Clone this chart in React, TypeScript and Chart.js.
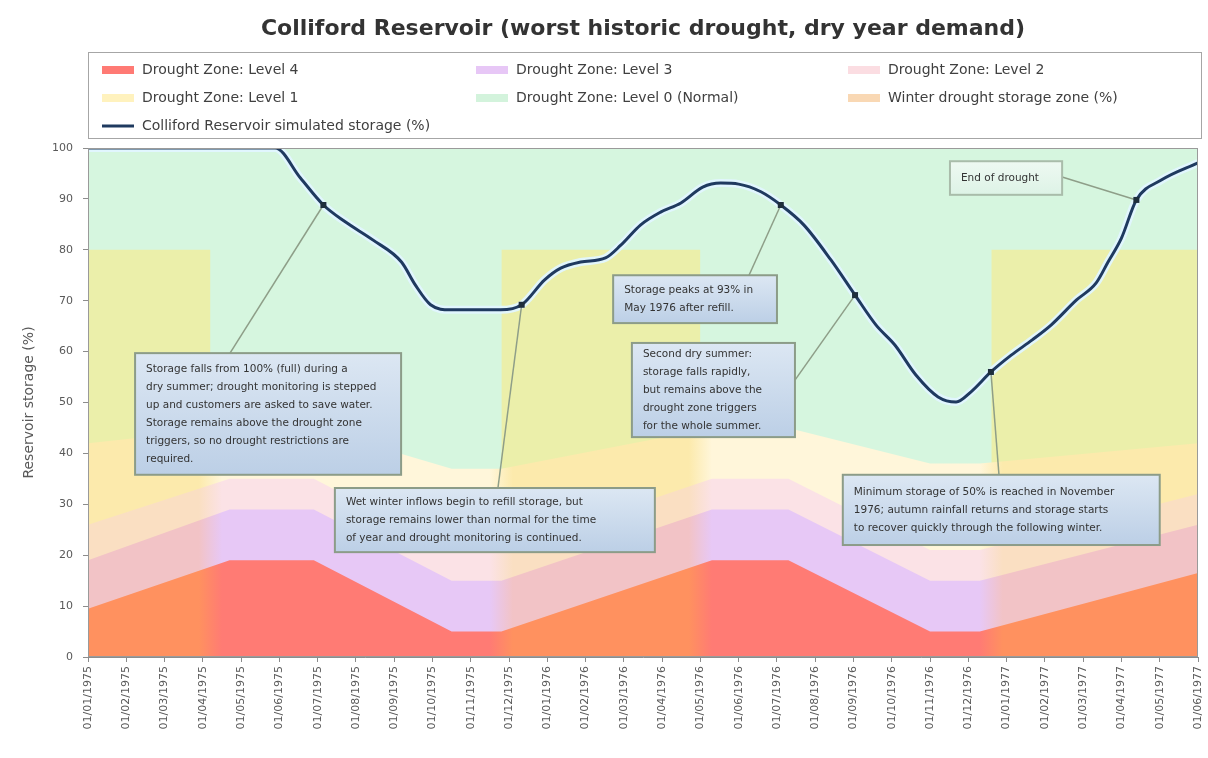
import React, { useEffect, useRef } from 'react';
import { Chart, registerables } from 'chart.js';

Chart.register(...registerables);

const W = 1208;
const H = 758;
const FONT = "'DejaVu Sans', Verdana, sans-serif";

const chartTitle = 'Colliford Reservoir (worst historic drought, dry year demand)';
const yAxisTitle = 'Reservoir storage (%)';

// Monthly category labels (x axis)
const dateLabels = [
  '01/01/1975', '01/02/1975', '01/03/1975', '01/04/1975', '01/05/1975', '01/06/1975',
  '01/07/1975', '01/08/1975', '01/09/1975', '01/10/1975', '01/11/1975', '01/12/1975',
  '01/01/1976', '01/02/1976', '01/03/1976', '01/04/1976', '01/05/1976', '01/06/1976',
  '01/07/1976', '01/08/1976', '01/09/1976', '01/10/1976', '01/11/1976', '01/12/1976',
  '01/01/1977', '01/02/1977', '01/03/1977', '01/04/1977', '01/05/1977', '01/06/1977',
];

const seriesNames = [
  'Drought Zone: Level 4',
  'Drought Zone: Level 3',
  'Drought Zone: Level 2',
  'Drought Zone: Level 1',
  'Drought Zone: Level 0 (Normal)',
  'Winter drought storage zone (%)',
  'Colliford Reservoir simulated storage (%)',
];

// Drought zone upper boundaries (% storage) at month positions (0 = first label)
const zoneMonths = [0, 3.7, 5.9, 9.5, 10.8, 16.3, 18.3, 22.0, 23.3, 29];
const level4Top = [9.5, 19, 19, 5, 5, 19, 19, 5, 5, 16.5];
const level3Top = [19, 29, 29, 15, 15, 29, 29, 15, 15, 26];
const level2Top = [26, 35, 35, 21, 21, 35, 35, 21, 21, 32];
const level1Top = [42, 45, 45, 37, 37, 45, 45, 38, 38, 42];
const level0Top = [100, 100, 100, 100, 100, 100, 100, 100, 100, 100];

// Winter periods (month ranges) and winter drought storage level (%)
const winterBands = [
  [0, 3.2],
  [10.8, 16.0],
  [23.6, 29],
];
const winterStorageLevel = 80;

// Simulated reservoir storage (%)
const storageMonths = [
  0, 4.89, 5.55, 6.15, 6.72, 7.45, 8.19, 8.55, 8.95, 9.47, 10.78, 11.33, 11.93, 12.35, 12.87,
  13.52, 13.92, 14.44, 14.96, 15.49, 16.06, 16.53, 17.0, 17.58, 18.1, 18.7, 19.41, 20.04, 20.59,
  21.08, 21.63, 22.21, 22.68, 23.07, 23.59, 24.12, 24.67, 25.16, 25.82, 26.34, 26.65, 27.0, 27.39,
  28.04, 29.0,
];
const storagePct = [
  100, 100, 94.1, 88.8, 85.5, 81.9, 77.6, 73.1, 69.2, 68.2, 68.2, 69.2, 74.1, 76.4, 77.6,
  78.4, 80.9, 84.9, 87.4, 89.2, 92.3, 93.1, 92.9, 91.4, 88.8, 84.9, 78.0, 71.1, 65.2,
  61.3, 55.4, 51.1, 50.1, 52.1, 56.0, 59.3, 62.3, 65.2, 70.1, 73.5, 77.6, 82.3, 89.8,
  93.7, 97.1,
];

// Annotations: anchored on storage points (index into storage arrays)
const noteAnchorIdx = [3, 11, 24, 27, 34, 42];
const noteLines: string[][] = [
  [
    'Storage falls from 100% (full) during a',
    'dry summer; drought monitoring is stepped',
    'up and customers are asked to save water.',
    'Storage remains above the drought zone',
    'triggers, so no drought restrictions are',
    'required.',
  ],
  [
    'Wet winter inflows begin to refill storage, but',
    'storage remains lower than normal for the time',
    'of year and drought monitoring is continued.',
  ],
  ['Storage peaks at 93% in', 'May 1976 after refill.'],
  [
    'Second dry summer:',
    'storage falls rapidly,',
    'but remains above the',
    'drought zone triggers',
    'for the whole summer.',
  ],
  [
    'Minimum storage of 50% is reached in November',
    '1976; autumn rainfall returns and storage starts',
    'to recover quickly through the following winter.',
  ],
  ['End of drought'],
];

// Annotation layout in data units: [xLeft, xRight, yTop, yBottom] and connector start [x, y]
const noteBoxes = [
  [1.23, 8.18, 59.7, 35.8],
  [6.45, 14.81, 33.2, 20.6],
  [13.72, 18.0, 75.0, 65.6],
  [14.21, 18.47, 61.7, 43.2],
  [19.72, 28.0, 35.8, 22.0],
  [22.52, 25.45, 97.4, 90.8],
];
const noteLinkFrom = [
  [3.71, 59.7],
  [10.71, 33.2],
  [17.27, 75.0],
  [18.47, 54.4],
  [23.8, 35.8],
  [25.45, 94.3],
];

// Colours [winter tint, summer tint]
const zoneColors = {
  l4: ['#FF915F', '#FF7B74'],
  l3: ['#F2C3C6', '#E7C8F6'],
  l2: ['#FADFC2', '#FBE2E6'],
  l1: ['#FCEAAC', '#FFF6DA'],
  l0: ['#D6F6DF', '#D6F6DF'],
  winter: ['#EBEFAA', '#EBEFAA'],
};
const legendColors = ['#FF7A74', '#E7C7F6', '#FBDDE2', '#FFF2BE', '#D3F3DC', '#F9D8B4', '#1F3A5F'];

const pts = (xs: number[], ys: (number | null)[]) => xs.map((x, i) => ({ x, y: ys[i] }));

function bandFill(winterColor: string, summerColor: string) {
  return (context: any) => {
    const chart = context.chart;
    const area = chart.chartArea;
    const xs = chart.scales && chart.scales.x;
    if (!area || !xs) return summerColor;
    const w = area.right - area.left;
    const g = chart.ctx.createLinearGradient(area.left, 0, area.right, 0);
    const stop = (v: number) => Math.min(1, Math.max(0, (xs.getPixelForValue(v) - area.left) / w));
    const soft = 0.3;
    if (winterBands[0][0] > 0) g.addColorStop(0, summerColor);
    winterBands.forEach(([a, b]) => {
      if (a > 0) {
        g.addColorStop(stop(a - soft), summerColor);
        g.addColorStop(stop(a + soft), winterColor);
      } else {
        g.addColorStop(0, winterColor);
      }
      if (b < 29) {
        g.addColorStop(stop(b - soft), winterColor);
        g.addColorStop(stop(b + soft), summerColor);
      } else {
        g.addColorStop(1, winterColor);
      }
    });
    return g;
  };
}

function winterPoints() {
  const out: { x: number; y: number | null }[] = [];
  winterBands.forEach(([a, b], i) => {
    if (i > 0) out.push({ x: (winterBands[i - 1][1] + a) / 2, y: null });
    out.push({ x: a, y: winterStorageLevel }, { x: b, y: winterStorageLevel });
  });
  return out;
}

const STORAGE_INDEX = 6;

const decorPlugin = {
  id: 'decor',
  afterDraw(chart: any) {
    const ctx = chart.ctx as CanvasRenderingContext2D;
    const area = chart.chartArea;
    const xs = chart.scales.x;
    const ys = chart.scales.y;
    ctx.save();

    // plot frame
    ctx.strokeStyle = '#9A9A9A';
    ctx.lineWidth = 1;
    ctx.strokeRect(area.left + 0.5, area.top + 0.5, area.right - area.left - 1, area.bottom - area.top - 1);

    // title
    ctx.fillStyle = '#333333';
    ctx.font = `bold 22px ${FONT}`;
    ctx.textAlign = 'center';
    ctx.textBaseline = 'middle';
    ctx.fillText(chartTitle, (area.left + area.right) / 2, 29);

    // legend box
    const lTop = 52;
    const lBottom = 138;
    ctx.fillStyle = '#FFFFFF';
    ctx.fillRect(area.left, lTop, area.right - area.left + 4, lBottom - lTop);
    ctx.strokeStyle = '#A6A6A6';
    ctx.strokeRect(area.left + 0.5, lTop + 0.5, area.right - area.left + 3, lBottom - lTop);
    const colX = [area.left + 14, area.left + 388, area.left + 760];
    const rowY = [70, 98, 126];
    ctx.font = `14px ${FONT}`;
    ctx.textAlign = 'left';
    ctx.textBaseline = 'middle';
    seriesNames.forEach((name, i) => {
      const cx = colX[i % 3];
      const cy = rowY[Math.floor(i / 3)];
      if (i === STORAGE_INDEX) {
        ctx.strokeStyle = legendColors[i];
        ctx.lineWidth = 3;
        ctx.beginPath();
        ctx.moveTo(cx, cy);
        ctx.lineTo(cx + 32, cy);
        ctx.stroke();
      } else {
        ctx.fillStyle = legendColors[i];
        ctx.fillRect(cx, cy - 4, 32, 8);
      }
      ctx.fillStyle = '#404040';
      ctx.fillText(name, cx + 40, cy);
    });

    // annotations
    const meta = chart.getDatasetMeta(STORAGE_INDEX);
    noteAnchorIdx.forEach((idx, i) => {
      const p = meta.data[idx];
      if (!p) return;
      const [fx, fy] = noteLinkFrom[i];
      ctx.strokeStyle = '#8E9E88';
      ctx.lineWidth = 1.5;
      ctx.beginPath();
      ctx.moveTo(xs.getPixelForValue(fx), ys.getPixelForValue(fy));
      ctx.lineTo(p.x, p.y);
      ctx.stroke();
      ctx.fillStyle = '#1E2E3C';
      ctx.fillRect(p.x - 3, p.y - 3, 6, 6);
    });
    noteBoxes.forEach((b, i) => {
      const x0 = xs.getPixelForValue(b[0]);
      const x1 = xs.getPixelForValue(b[1]);
      const y0 = ys.getPixelForValue(b[2]);
      const y1 = ys.getPixelForValue(b[3]);
      const g = ctx.createLinearGradient(0, y0, 0, y1);
      if (i === 5) {
        g.addColorStop(0, '#EEF9F2');
        g.addColorStop(1, '#DDF3E6');
      } else {
        g.addColorStop(0, '#DCE7F3');
        g.addColorStop(1, '#BCCFE6');
      }
      ctx.fillStyle = g;
      ctx.fillRect(x0, y0, x1 - x0, y1 - y0);
      ctx.strokeStyle = i === 5 ? '#A9BCAA' : '#8C9C88';
      ctx.lineWidth = 2;
      ctx.strokeRect(x0, y0, x1 - x0, y1 - y0);
      const lines = noteLines[i];
      const lh = 18;
      const startY = (y0 + y1) / 2 - ((lines.length - 1) * lh) / 2;
      ctx.fillStyle = '#333333';
      ctx.font = `10.5px ${FONT}`;
      ctx.textAlign = 'left';
      ctx.textBaseline = 'middle';
      lines.forEach((t, k) => ctx.fillText(t, x0 + 11, startY + k * lh));
    });
    ctx.restore();
  },
};

export default function App() {
  const ref = useRef<HTMLCanvasElement>(null);

  useEffect(() => {
    const canvas = ref.current;
    if (!canvas) return;
    const zone = (data: any, cols: string[], order: number) => ({
      data,
      fill: 'origin',
      backgroundColor: bandFill(cols[0], cols[1]),
      borderWidth: 0,
      borderColor: 'rgba(0,0,0,0)',
      pointRadius: 0,
      tension: 0,
      order,
    });
    const chart = new Chart(canvas, {
      type: 'line',
      data: {
        datasets: [
          { label: seriesNames[0], ...zone(pts(zoneMonths, level4Top), zoneColors.l4, 6) },
          { label: seriesNames[1], ...zone(pts(zoneMonths, level3Top), zoneColors.l3, 7) },
          { label: seriesNames[2], ...zone(pts(zoneMonths, level2Top), zoneColors.l2, 8) },
          { label: seriesNames[3], ...zone(pts(zoneMonths, level1Top), zoneColors.l1, 9) },
          { label: seriesNames[4], ...zone(pts(zoneMonths, level0Top), zoneColors.l0, 11) },
          { label: seriesNames[5], ...zone(winterPoints(), zoneColors.winter, 10), spanGaps: false },
          {
            label: seriesNames[6],
            data: pts(storageMonths, storagePct),
            borderColor: '#1F3A5F',
            borderWidth: 3,
            fill: false,
            pointRadius: 0,
            cubicInterpolationMode: 'monotone',
            order: 0,
          },
          {
            label: 'halo',
            data: pts(storageMonths, storagePct),
            borderColor: 'rgba(226,246,255,0.95)',
            borderWidth: 8,
            fill: false,
            pointRadius: 0,
            cubicInterpolationMode: 'monotone',
            order: 1,
          },
        ] as any,
      },
      options: {
        animation: false,
        responsive: false,
        devicePixelRatio: 1,
        events: [],
        layout: { padding: { top: 148, left: 8, right: 10, bottom: 0 } },
        plugins: {
          legend: { display: false },
          title: { display: false },
          tooltip: { enabled: false },
        },
        scales: {
          x: {
            type: 'linear',
            min: 0,
            max: 29,
            z: 1,
            ticks: {
              stepSize: 1,
              autoSkip: false,
              minRotation: 90,
              maxRotation: 90,
              padding: 4,
              color: '#595959',
              font: { family: FONT, size: 11 },
              callback: (v: any) => dateLabels[Math.round(Number(v))] ?? '',
            },
            grid: { drawOnChartArea: false, tickLength: 5, tickColor: '#8C8C8C' },
            border: { color: '#8C8C8C' },
            afterFit: (s: any) => {
              s.height = 101;
              s.paddingLeft = 0;
              s.paddingRight = 0;
            },
          },
          y: {
            min: 0,
            max: 100,
            z: 1,
            ticks: {
              stepSize: 10,
              padding: 10,
              color: '#595959',
              font: { family: FONT, size: 11 },
            },
            grid: { color: 'rgba(100,130,100,0.2)', tickLength: 5, tickColor: '#8C8C8C' },
            border: { color: '#8C8C8C' },
            title: {
              display: true,
              text: yAxisTitle,
              color: '#595959',
              font: { family: FONT, size: 14 },
              padding: { top: 13, bottom: 0 },
            },
            afterFit: (s: any) => {
              s.width = 80;
              s.paddingTop = 0;
              s.paddingBottom = 0;
            },
          },
        },
      } as any,
      plugins: [decorPlugin],
    });
    return () => chart.destroy();
  }, []);

  return (
    <div style={{ position: 'fixed', left: 0, top: 0, width: W, height: H, background: '#FFFFFF' }}>
      <canvas ref={ref} width={W} height={H} style={{ display: 'block', width: W, height: H }} />
    </div>
  );
}
